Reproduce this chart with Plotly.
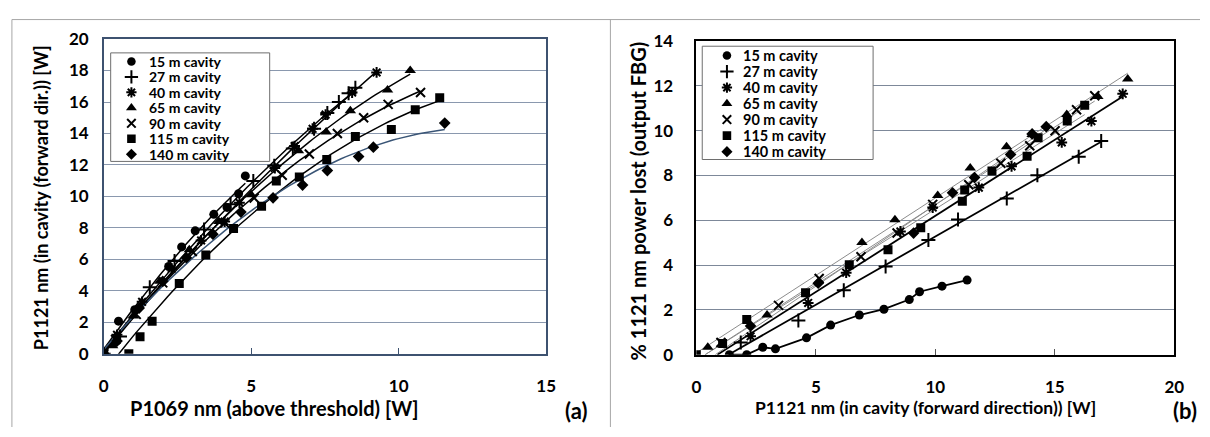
import numpy as np
import plotly.graph_objects as go

W, H = 1210, 437

labels = ["15 m cavity", "27 m cavity", "40 m cavity", "65 m cavity",
          "90 m cavity", "115 m cavity", "140 m cavity"]

# ---------------- panel (a): P1121 vs P1069 ----------------
a15_x = [0, 0.5, 1.05, 2.2, 2.64, 3.1, 3.73, 4.18, 4.57, 4.8]
a15_y = [0, 2.07, 2.8, 5.54, 6.79, 7.81, 8.86, 9.3, 10.17, 11.3]
a27_x = [0, 0.55, 1.56, 2.4, 3.4, 4.3, 5.07, 5.78, 6.41, 7.13, 7.58, 7.97, 8.3, 8.53]
a27_y = [0, 1.1, 4.23, 5.9, 7.9, 9.5, 10.98, 11.95, 13.05, 14.3, 15.3, 16.0, 16.56, 16.9]
a40_x = [0, 0.45, 1.3, 2.3, 3.3, 4.1, 4.6, 5.8, 6.47, 7.08, 7.52, 8.42, 9.25]
a40_y = [0, 1.2, 3.3, 5.4, 7.2, 8.4, 9.6, 11.8, 13.2, 14.3, 15.2, 16.6, 17.88]
a65_x = [0, 0.3, 1.0, 1.9, 2.9, 3.9, 5.0, 6.6, 7.54, 8.36, 9.62, 10.39]
a65_y = [0, 0.5, 2.4, 4.6, 6.6, 8.4, 10.1, 12.9, 14.1, 15.45, 16.76, 18.0]
a90_x = [0, 0.4, 1.1, 2.0, 3.0, 4.1, 5.1, 6.05, 6.97, 7.92, 8.81, 9.64, 10.74]
a90_y = [0, 0.9, 2.5, 4.5, 6.5, 8.3, 9.9, 11.34, 12.69, 14.0, 15.0, 15.85, 16.6]
a115_x = [0, 0.85, 1.23, 1.64, 2.56, 3.46, 4.4, 5.35, 5.85, 6.63, 7.56, 8.53, 9.75, 10.56, 11.39]
a115_y = [0, 0, 1.07, 2.07, 4.47, 6.28, 7.96, 9.37, 10.98, 11.24, 12.34, 13.8, 14.26, 15.51, 16.27]
a140_x = [0, 0.45, 1.2, 2.0, 2.8, 3.7, 4.65, 5.74, 6.74, 7.58, 8.64, 9.14, 11.56]
a140_y = [0, 0.8, 2.9, 4.6, 6.1, 7.6, 9.0, 9.91, 10.72, 11.64, 12.53, 13.13, 14.66]

# ---------------- panel (b): % power lost vs P1121 ----------------
b15_x = [1.38, 2.11, 2.78, 3.31, 4.61, 5.62, 6.82, 7.85, 8.91, 9.34, 10.28, 11.33]
b15_y = [0, 0, 0.33, 0.26, 0.75, 1.32, 1.77, 2.03, 2.46, 2.81, 3.06, 3.33]
b27_x = [1.86, 4.27, 6.17, 7.92, 9.71, 10.95, 12.99, 14.27, 16.0, 16.94]
b27_y = [0.54, 1.53, 2.88, 3.94, 5.12, 6.04, 6.97, 8.01, 8.84, 9.54]
b40_x = [2.27, 4.68, 6.27, 8.54, 9.89, 11.82, 13.19, 15.29, 16.53, 17.84]
b40_y = [0.82, 2.31, 3.66, 5.5, 6.57, 7.46, 8.41, 9.48, 10.43, 11.65]
b65_x = [0.48, 2.96, 6.93, 8.31, 10.10, 11.46, 12.98, 14.05, 15.5, 16.8, 18.05]
b65_y = [0.33, 1.77, 5.01, 6.03, 7.11, 8.34, 9.29, 9.83, 10.72, 11.53, 12.31]
b90_x = [1.03, 3.44, 5.14, 6.89, 8.40, 9.89, 11.40, 12.74, 13.95, 15.01, 15.91, 16.67]
b90_y = [0.54, 2.2, 3.4, 4.37, 5.43, 6.71, 7.59, 8.55, 9.33, 10.0, 10.94, 11.56]
b115_x = [0, 1.1, 2.11, 4.57, 6.40, 8.02, 9.39, 11.13, 11.23, 12.37, 13.84, 14.30, 15.52, 16.25]
b115_y = [0, 0.5, 1.57, 2.77, 4.01, 4.69, 5.67, 6.85, 7.35, 8.2, 8.86, 9.69, 10.43, 11.14]
b140_x = [2.27, 5.1, 9.09, 10.72, 11.64, 13.15, 14.05, 14.64]
b140_y = [1.28, 3.19, 5.43, 7.23, 7.91, 8.94, 9.86, 10.18]

a_x = [a15_x, a27_x, a40_x, a65_x, a90_x, a115_x, a140_x]
a_y = [a15_y, a27_y, a40_y, a65_y, a90_y, a115_y, a140_y]
b_x = [b15_x, b27_x, b40_x, b65_x, b90_x, b115_x, b140_x]
b_y = [b15_y, b27_y, b40_y, b65_y, b90_y, b115_y, b140_y]

a_xticks = [0, 5, 10, 15]
a_yticks = [0, 2, 4, 6, 8, 10, 12, 14, 16, 18, 20]
b_xticks = [0, 5, 10, 15, 20]
b_yticks = [0, 2, 4, 6, 8, 10, 12, 14]

# marker styles
symbols = ["circle", "cross-thin-open", "asterisk-open", "triangle-up",
           "x-thin-open", "square", "diamond"]
sizes = [9, 10, 9, 10, 9, 9, 9]
thin = [False, True, True, False, True, False, False]

FONT = "Lato"


def px(v):
    return v / W


def py(v):
    return 1 - v / H


def marker(i, scale=1.0):
    m = dict(symbol=symbols[i], size=sizes[i] * scale, color="black")
    if thin[i]:
        m["line"] = dict(color="black", width=2)
    else:
        m["line"] = dict(color="black", width=0)
    return m


fig = go.Figure()

# ---- panel (a) trendlines (2nd-order fits) and markers
a_line_col = ["black"] * 6 + ["#3a5576"]
for i in range(7):
    c = np.polyfit(a_x[i], a_y[i], 2)
    xs = np.linspace(0, max(a_x[i]), 80)
    fig.add_trace(go.Scatter(x=xs, y=np.polyval(c, xs), mode="lines",
                             line=dict(color=a_line_col[i], width=1.5),
                             xaxis="x", yaxis="y", showlegend=False, hoverinfo="skip"))
for i in range(7):
    fig.add_trace(go.Scatter(x=a_x[i], y=a_y[i], mode="markers", marker=marker(i),
                             name=labels[i], xaxis="x", yaxis="y", showlegend=False))

# ---- panel (b) trendlines (linear) and markers
b_line_col = ["black", "black", "black", "#8c8c8c", "#8c8c8c", "#8c8c8c", "#8c8c8c"]
b_line_w = [1.8, 1.8, 1.8, 1, 1, 1, 1]
for i in range(7):
    if i == 0:
        lx, ly = b_x[0], b_y[0]
    else:
        m, b = np.polyfit(b_x[i], b_y[i], 1)
        x0 = max(0.0, -b / m)
        x1 = max(b_x[i])
        lx, ly = [x0, x1], [m * x0 + b, m * x1 + b]
    fig.add_trace(go.Scatter(x=lx, y=ly, mode="lines",
                             line=dict(color=b_line_col[i], width=b_line_w[i]),
                             xaxis="x2", yaxis="y2", showlegend=False, hoverinfo="skip"))
for i in range(7):
    fig.add_trace(go.Scatter(x=b_x[i], y=b_y[i], mode="markers", marker=marker(i),
                             name=labels[i], xaxis="x2", yaxis="y2", showlegend=False))

# ---- custom legends (drawn on their own small axes)
legend_rows = [6, 5, 4, 3, 2, 1, 0]
for i in range(7):
    fig.add_trace(go.Scatter(x=[21], y=[legend_rows[i]], mode="markers",
                             marker=marker(i, 0.95), xaxis="x3", yaxis="y3",
                             showlegend=False, hoverinfo="skip"))
    fig.add_trace(go.Scatter(x=[25], y=[legend_rows[i]], mode="markers",
                             marker=marker(i, 0.95), xaxis="x4", yaxis="y4",
                             showlegend=False, hoverinfo="skip"))

annotations = []
for i in range(7):
    annotations.append(dict(x=37, y=legend_rows[i], xref="x3", yref="y3", text=labels[i],
                            showarrow=False, xanchor="left", yanchor="middle",
                            font=dict(family=FONT, size=14, color="black", weight="bold")))
    annotations.append(dict(x=39, y=legend_rows[i], xref="x4", yref="y4", text=labels[i],
                            showarrow=False, xanchor="left", yanchor="middle",
                            font=dict(family=FONT, size=14.5, color="black", weight="bold")))


def title(x, y, text, size, angle=0):
    return dict(x=px(x), y=py(y), xref="paper", yref="paper", text=text,
                textangle=angle, showarrow=False, xanchor="center", yanchor="middle",
                font=dict(family=FONT, size=size, color="black", weight="bold"))


# axis titles and panel labels
annotations += [
    title(36, 196, "P1121 nm (in cavity (forward dir.)) [W]", 18, -90),
    title(272, 417, "P1069 nm (above threshold) [W]", 20),
    title(578, 420, "(a)", 22),
    title(641, 200, "% 1121 nm power lost (output FBG)", 20, -90),
    title(932, 417, "P1121 nm (in cavity (forward direction)) [W]", 17.5),
    title(1195, 420, "(b)", 22),
]

shapes = [
    # panel frames
    dict(type="line", xref="paper", yref="paper", x0=px(7), x1=1, y0=py(9), y1=py(9),
         line=dict(color="#a6a6a6", width=1)),
    dict(type="line", xref="paper", yref="paper", x0=px(7), x1=px(7), y0=0, y1=py(9),
         line=dict(color="#a6a6a6", width=1)),
    dict(type="line", xref="paper", yref="paper", x0=px(613), x1=px(613), y0=0, y1=py(9),
         line=dict(color="#a6a6a6", width=1)),
    # legend backgrounds (cover gridlines)
    dict(type="rect", xref="x3", yref="y3", x0=0, x1=161, y0=-0.46, y1=6.55,
         fillcolor="white", line=dict(width=0), layer="below"),
    dict(type="rect", xref="x4", yref="y4", x0=0, x1=173, y0=-0.49, y1=6.58,
         fillcolor="white", line=dict(width=0), layer="below"),
    # legend borders
    dict(type="rect", xref="paper", yref="paper", x0=px(107), x1=px(268), y0=py(158), y1=py(44),
         line=dict(color="#6e6e6e", width=1), fillcolor="rgba(0,0,0,0)"),
    dict(type="rect", xref="paper", yref="paper", x0=px(706), x1=px(879), y0=py(156), y1=py(37),
         line=dict(color="#6e6e6e", width=1), fillcolor="rgba(0,0,0,0)"),
]

tickfont_a = dict(family=FONT, size=17, color="black", weight="bold")
tickfont_b = dict(family=FONT, size=17, color="black", weight="bold")

fig.update_layout(
    width=W, height=H, margin=dict(l=0, r=0, t=0, b=0),
    paper_bgcolor="white", plot_bgcolor="white", showlegend=False,
    annotations=annotations, shapes=shapes,
    xaxis=dict(domain=[px(100), px(548)], range=[0, 15], tickvals=a_xticks,
               anchor="y", showgrid=False, zeroline=False, showline=True, mirror=True,
               linecolor="#3d5270", linewidth=1.5, ticks="inside", ticklen=6,
               tickcolor="#3d5270", tickfont=tickfont_a, ticklabelstandoff=16),
    yaxis=dict(domain=[py(360), py(29.5)], range=[0, 20], tickvals=a_yticks,
               anchor="x", showgrid=True, gridcolor="#8a98ae", gridwidth=1,
               zeroline=False, showline=True, mirror=True, linecolor="#3d5270",
               linewidth=1.5, ticks="", tickfont=tickfont_a, ticklabelstandoff=10),
    xaxis2=dict(domain=[px(700), px(1184)], range=[0, 20], tickvals=b_xticks,
                anchor="y2", showgrid=False, zeroline=False, showline=True, mirror=True,
                linecolor="black", linewidth=1.5, ticks="inside", ticklen=6,
                tickcolor="#555", tickfont=tickfont_b, ticklabelstandoff=16),
    yaxis2=dict(domain=[py(361), py(31.7)], range=[0, 14], tickvals=b_yticks,
                anchor="x2", showgrid=True, gridcolor="#7d8899", gridwidth=1,
                zeroline=False, showline=True, mirror=True, linecolor="black",
                linewidth=1.5, ticks="", tickfont=tickfont_b, ticklabelstandoff=18),
    xaxis3=dict(domain=[px(107), px(268)], range=[0, 161], visible=False, anchor="y3",
                fixedrange=True),
    yaxis3=dict(domain=[py(158), py(44)], range=[-0.46, 6.55], visible=False, anchor="x3",
                fixedrange=True),
    xaxis4=dict(domain=[px(706), px(879)], range=[0, 173], visible=False, anchor="y4",
                fixedrange=True),
    yaxis4=dict(domain=[py(156), py(37)], range=[-0.49, 6.58], visible=False, anchor="x4",
                fixedrange=True),
)

fig.write_html("out.html")
